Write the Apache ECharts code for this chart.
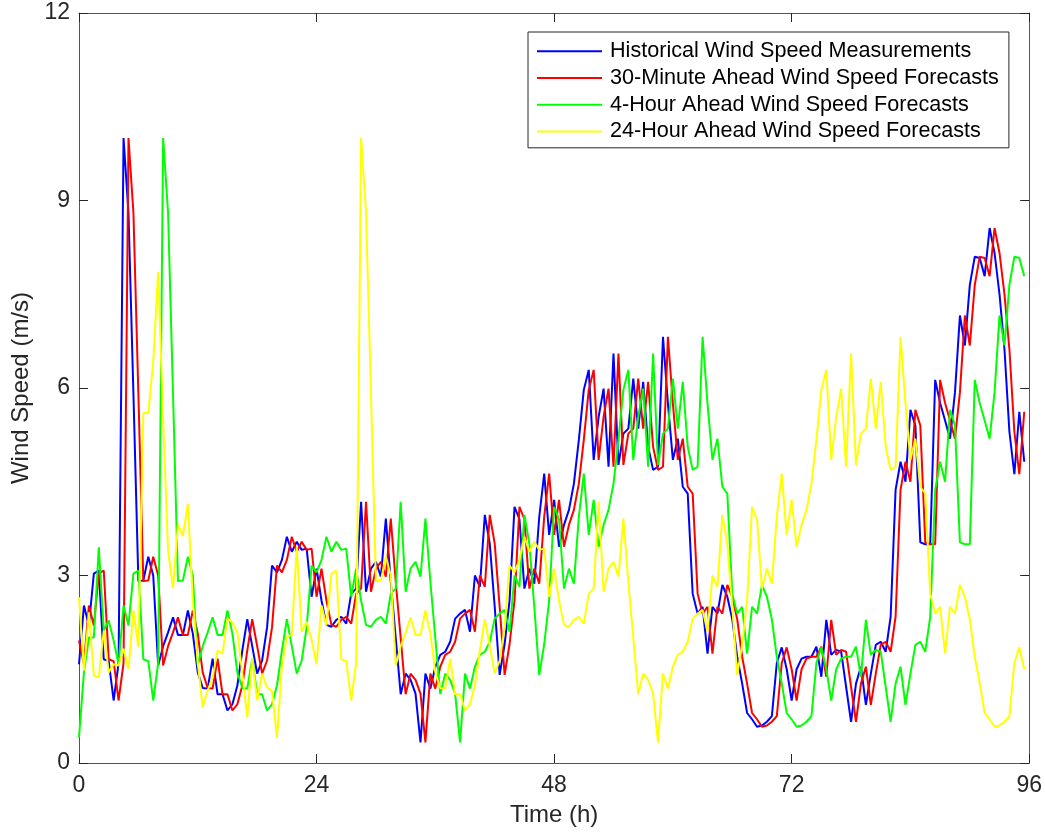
<!DOCTYPE html>
<html>
<head>
<meta charset="utf-8">
<title>Wind Speed</title>
<script src="https://cdn.jsdelivr.net/npm/echarts@6/dist/echarts.min.js"></script>
<style>
  html, body { margin: 0; padding: 0; background: #fff; }
  #main { width: 1045px; height: 836px; }
</style>
</head>
<body>
<div id="main"></div>
<script>
// samples every 30 minutes, starting at t = 0 h
var step = 0.5;

var measured = [
  1.58, 2.52, 2.2, 3.03, 3.08, 1.66, 1.63, 1.0, 1.6, 10, 8.8, 5.9,
  2.91, 2.92, 3.3, 3.0, 1.56, 1.87, 2.09, 2.33, 2.05, 2.05, 2.44, 2.07,
  1.45, 1.2, 1.19, 1.67, 1.1, 1.1, 0.84, 0.94, 1.24, 1.8, 2.3, 1.87,
  1.43, 1.64, 2.17, 3.16, 3.05, 3.25, 3.62, 3.38, 3.54, 3.41, 3.43, 2.66,
  3.11, 2.6, 2.21, 2.18, 2.29, 2.34, 2.23, 2.71, 2.79, 4.18, 2.74, 3.11,
  3.22, 2.98, 3.91, 2.9, 2.0, 1.1, 1.43, 1.33, 1.11, 0.33, 1.43, 1.19,
  1.54, 1.73, 1.78, 1.94, 2.31, 2.39, 2.45, 2.1, 3.0, 2.82, 3.97, 3.51,
  2.5, 1.41, 1.9, 2.6, 4.1, 3.9, 2.79, 3.11, 2.87, 3.94, 4.63, 3.65,
  4.21, 3.46, 3.81, 4.05, 4.47, 5.17, 5.97, 6.29, 4.85, 5.54, 5.99, 4.74,
  6.55, 4.77, 5.27, 5.35, 6.15, 5.35, 6.1, 5.06, 4.69, 4.74, 6.82, 5.75,
  4.85, 5.19, 4.42, 4.31, 2.71, 2.39, 2.5, 1.75, 2.5, 2.39, 2.85, 2.66,
  2.3, 1.7, 1.27, 0.8, 0.7, 0.58, 0.6, 0.66, 0.75, 1.6, 1.85, 1.5,
  1.0, 1.5, 1.67, 1.7, 1.7, 1.86, 1.38, 2.29, 1.73, 1.81, 1.78, 1.22,
  0.66, 1.27, 1.54, 0.93, 1.43, 1.89, 1.94, 1.78, 2.34, 4.37, 4.82, 4.5,
  5.65, 5.4, 3.53, 3.5, 3.5, 6.13, 5.76, 5.48, 5.19, 5.93, 7.16, 6.68,
  7.65, 8.1, 8.08, 7.79, 8.56, 8.16, 7.5, 6.62, 5.3, 4.62, 5.62, 4.82
];

var ahead30min = [
  1.96, 1.58, 2.52, 2.2, 3.03, 3.08, 1.66, 1.63, 1.0, 1.6, 10, 8.8,
  5.9, 2.91, 2.92, 3.3, 3.0, 1.56, 1.87, 2.09, 2.33, 2.05, 2.05, 2.44,
  2.07, 1.45, 1.2, 1.19, 1.67, 1.1, 1.1, 0.84, 0.94, 1.24, 1.8, 2.3,
  1.87, 1.43, 1.64, 2.17, 3.16, 3.05, 3.25, 3.62, 3.38, 3.54, 3.41, 3.43,
  2.66, 3.11, 2.6, 2.21, 2.18, 2.29, 2.34, 2.23, 2.71, 2.79, 4.18, 2.74,
  3.11, 3.22, 2.98, 3.91, 2.9, 2.0, 1.1, 1.43, 1.33, 1.11, 0.33, 1.43,
  1.19, 1.54, 1.73, 1.78, 1.94, 2.31, 2.39, 2.45, 2.1, 3.0, 2.82, 3.97,
  3.51, 2.5, 1.41, 1.9, 2.6, 4.1, 3.9, 2.79, 3.11, 2.87, 3.94, 4.63,
  3.65, 4.21, 3.46, 3.81, 4.05, 4.47, 5.17, 5.97, 6.29, 4.85, 5.54, 5.99,
  4.74, 6.55, 4.77, 5.27, 5.35, 6.15, 5.35, 6.1, 5.06, 4.69, 4.74, 6.82,
  5.75, 4.85, 5.19, 4.42, 4.31, 2.71, 2.39, 2.5, 1.75, 2.5, 2.39, 2.85,
  2.66, 2.3, 1.7, 1.27, 0.8, 0.7, 0.58, 0.6, 0.66, 0.75, 1.6, 1.85,
  1.5, 1.0, 1.5, 1.67, 1.7, 1.7, 1.86, 1.38, 2.29, 1.73, 1.81, 1.78,
  1.22, 0.66, 1.27, 1.54, 0.93, 1.43, 1.89, 1.94, 1.78, 2.34, 4.37, 4.82,
  4.5, 5.65, 5.4, 3.53, 3.5, 3.5, 6.13, 5.76, 5.48, 5.19, 5.93, 7.16,
  6.68, 7.65, 8.1, 8.08, 7.79, 8.56, 8.16, 7.5, 6.62, 5.3, 4.62, 5.62
];

var ahead4h = [
  0.41, 1.45, 2.01, 2.01, 3.45, 2.12, 2.28, 1.96, 1.58, 2.52, 2.2, 3.03,
  3.08, 1.66, 1.63, 1.0, 1.6, 10, 8.8, 5.9, 2.91, 2.92, 3.3, 3.0,
  1.56, 1.87, 2.09, 2.33, 2.05, 2.05, 2.44, 2.07, 1.45, 1.2, 1.19, 1.67,
  1.1, 1.1, 0.84, 0.94, 1.24, 1.8, 2.3, 1.87, 1.43, 1.64, 2.17, 3.16,
  3.05, 3.25, 3.62, 3.38, 3.54, 3.41, 3.43, 2.66, 3.11, 2.6, 2.21, 2.18,
  2.29, 2.34, 2.23, 2.71, 2.79, 4.18, 2.74, 3.11, 3.22, 2.98, 3.91, 2.9,
  2.0, 1.1, 1.43, 1.33, 1.11, 0.33, 1.43, 1.19, 1.54, 1.73, 1.78, 1.94,
  2.31, 2.39, 2.45, 2.1, 3.0, 2.82, 3.97, 3.51, 2.5, 1.41, 1.9, 2.6,
  4.1, 3.9, 2.79, 3.11, 2.87, 3.94, 4.63, 3.65, 4.21, 3.46, 3.81, 4.05,
  4.47, 5.17, 5.97, 6.29, 4.85, 5.54, 5.99, 4.74, 6.55, 4.77, 5.27, 5.35,
  6.15, 5.35, 6.1, 5.06, 4.69, 4.74, 6.82, 5.75, 4.85, 5.19, 4.42, 4.31,
  2.71, 2.39, 2.5, 1.75, 2.5, 2.39, 2.85, 2.66, 2.3, 1.7, 1.27, 0.8,
  0.7, 0.58, 0.6, 0.66, 0.75, 1.6, 1.85, 1.5, 1.0, 1.5, 1.67, 1.7,
  1.7, 1.86, 1.38, 2.29, 1.73, 1.81, 1.78, 1.22, 0.66, 1.27, 1.54, 0.93,
  1.43, 1.89, 1.94, 1.78, 2.34, 4.37, 4.82, 4.5, 5.65, 5.4, 3.53, 3.5,
  3.5, 6.13, 5.76, 5.48, 5.19, 5.93, 7.16, 6.68, 7.65, 8.1, 8.08, 7.79
];

var ahead24h = [
  2.65, 1.48, 2.41, 1.4, 1.37, 2.12, 1.45, 1.58, 1.56, 1.83, 1.5, 2.44,
  1.85, 5.6, 5.6, 6.42, 7.86, 5.5, 3.39, 2.8, 3.82, 3.63, 4.15, 2.6,
  1.6, 0.89, 1.16, 1.37, 1.8, 1.75, 2.31, 2.25, 2.09, 1.43, 0.73, 1.67,
  1.0, 1.43, 1.21, 1.15, 0.41, 1.54, 2.02, 2.05, 3.46, 2.1, 2.26, 1.97,
  1.58, 2.52, 2.2, 3.03, 3.08, 1.66, 1.63, 1.0, 1.6, 10, 8.8, 5.9,
  2.91, 2.92, 3.3, 3.0, 1.56, 1.87, 2.09, 2.33, 2.05, 2.05, 2.44, 2.07,
  1.45, 1.2, 1.19, 1.67, 1.1, 1.1, 0.84, 0.94, 1.24, 1.8, 2.3, 1.87,
  1.43, 1.64, 2.17, 3.16, 3.05, 3.25, 3.62, 3.38, 3.54, 3.41, 3.43, 2.66,
  3.11, 2.6, 2.21, 2.18, 2.29, 2.34, 2.23, 2.71, 2.79, 4.18, 2.74, 3.11,
  3.22, 2.98, 3.91, 2.9, 2.0, 1.1, 1.43, 1.33, 1.11, 0.33, 1.43, 1.19,
  1.54, 1.73, 1.78, 1.94, 2.31, 2.39, 2.45, 2.1, 3.0, 2.82, 3.97, 3.51,
  2.5, 1.41, 1.9, 2.6, 4.1, 3.9, 2.79, 3.11, 2.87, 3.94, 4.63, 3.65,
  4.21, 3.46, 3.81, 4.05, 4.47, 5.17, 5.97, 6.29, 4.85, 5.54, 5.99, 4.74,
  6.55, 4.77, 5.27, 5.35, 6.15, 5.35, 6.1, 5.06, 4.69, 4.74, 6.82, 5.75,
  4.85, 5.19, 4.42, 4.31, 2.71, 2.39, 2.5, 1.75, 2.5, 2.39, 2.85, 2.66,
  2.3, 1.7, 1.27, 0.8, 0.7, 0.58, 0.6, 0.66, 0.75, 1.6, 1.85, 1.5
];

var seriesNames = [
  "Historical Wind Speed Measurements",
  "30-Minute Ahead Wind Speed Forecasts",
  "4-Hour Ahead Wind Speed Forecasts",
  "24-Hour Ahead Wind Speed Forecasts"
];
var seriesColors = ["#0000ff", "#ff0000", "#00ff00", "#ffff00"];
var seriesValues = [measured, ahead30min, ahead4h, ahead24h];

var font = "'Liberation Sans', Arial, Helvetica, sans-serif";
var axisColor = "#262626";

function toPairs(values) {
  return values.map(function (v, i) { return [i * step, v]; });
}

var chart = echarts.init(document.getElementById("main"), null, { renderer: "canvas" });

// box axes (MATLAB style: ticks inside on all four sides)
function boxAxis(extra) {
  var base = {
    axisLine: { show: true, onZero: false, lineStyle: { color: "#555", width: 1 } },
    axisTick: { show: true, inside: true, length: 9, lineStyle: { color: axisColor, width: 1 } },
    splitLine: { show: false }
  };
  return Object.assign(base, extra);
}

var option = {
  animation: false,
  backgroundColor: "#fff",
  grid: { left: 79, right: 15, top: 13, bottom: 73, containLabel: false },
  legend: {
    orient: "vertical",
    left: 528,
    top: 32,
    padding: [6, 10, 3, 9],
    icon: "rect",
    itemWidth: 65,
    itemHeight: 2,
    itemGap: 0,
    backgroundColor: "#fff",
    borderColor: "#262626",
    borderWidth: 1,
    borderRadius: 0,
    textStyle: {
      fontFamily: font,
      fontSize: 21.6,
      color: "#000",
      lineHeight: 26.7,
      padding: [0, 0, 0, 3]
    },
    data: seriesNames
  },
  xAxis: [
    boxAxis({
      type: "value",
      min: 0,
      max: 96,
      interval: 24,
      position: "bottom",
      name: "Time (h)",
      nameLocation: "middle",
      nameGap: 40,
      nameTextStyle: { fontFamily: font, fontSize: 24, color: axisColor },
      axisLabel: { fontFamily: font, fontSize: 23, color: axisColor, margin: 11 }
    }),
    boxAxis({
      type: "value",
      min: 0,
      max: 96,
      interval: 24,
      position: "top",
      axisLabel: { show: false }
    })
  ],
  yAxis: [
    boxAxis({
      type: "value",
      min: 0,
      max: 12,
      interval: 3,
      position: "left",
      name: "Wind Speed (m/s)",
      nameLocation: "middle",
      nameGap: 43,
      nameTextStyle: { fontFamily: font, fontSize: 24, color: axisColor },
      axisLabel: { fontFamily: font, fontSize: 23, color: axisColor, margin: 9 }
    }),
    boxAxis({
      type: "value",
      min: 0,
      max: 12,
      interval: 3,
      position: "right",
      axisLabel: { show: false }
    })
  ],
  series: seriesNames.map(function (name, k) {
    return {
      name: name,
      type: "line",
      xAxisIndex: 0,
      yAxisIndex: 0,
      data: toPairs(seriesValues[k]),
      symbol: "none",
      color: seriesColors[k],
      lineStyle: { color: seriesColors[k], width: 2 },
      z: 2 + k
    };
  })
};

chart.setOption(option);
</script>
</body>
</html>
